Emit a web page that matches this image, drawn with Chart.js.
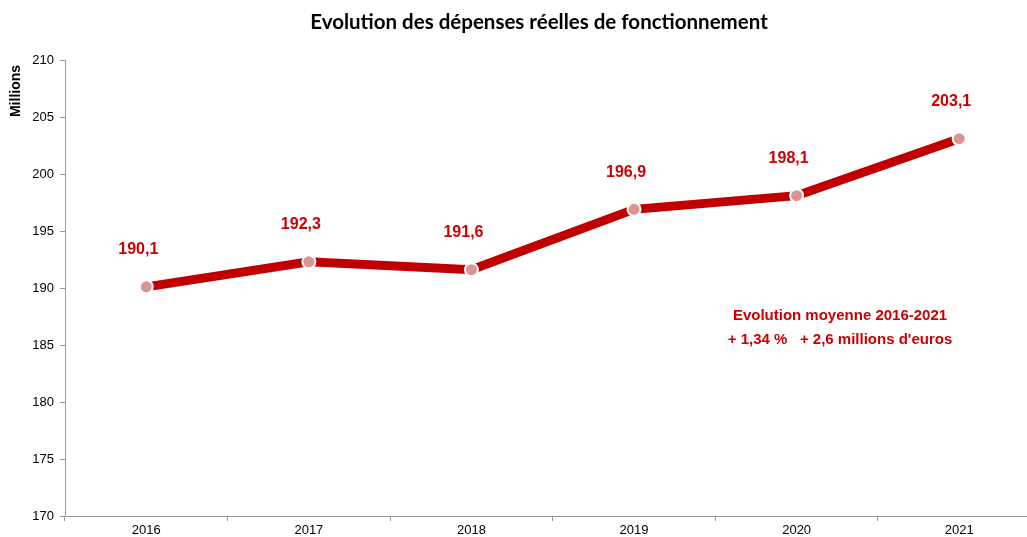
<!DOCTYPE html>
<html lang="fr">
<head>
  <meta charset="UTF-8" />
  <title>Evolution des dépenses réelles de fonctionnement</title>
  <script src="https://cdn.jsdelivr.net/npm/chart.js"></script>
  <style>
    html, body { margin: 0; padding: 0; background: #fff; overflow: hidden; }
    #wrap { position: absolute; left: 0; top: 0; width: 1049px; height: 537px; }
  </style>
</head>
<body>
<div id="wrap"><canvas id="chart" width="1049" height="537"></canvas></div>

<script>
  const years = ['2016', '2017', '2018', '2019', '2020', '2021'];
  const depenses = [190.1, 192.3, 191.6, 196.9, 198.1, 203.1];
  const yTicks = [170, 175, 180, 185, 190, 195, 200, 205, 210];
  const chartTitle = 'Evolution des dépenses réelles de fonctionnement';
  const yTitle = 'Millions';
  const noteLines = ['Evolution moyenne 2016-2021', '+ 1,34 %   + 2,6 millions d\'euros'];

  const fmt = v => v.toFixed(1).replace('.', ',');
  const arial = '"Liberation Sans", Arial, sans-serif';

  // title, axis label, value labels and the note
  const extras = {
    id: 'extras',
    afterDatasetsDraw(chart) {
      const ctx = chart.ctx;
      ctx.save();
      ctx.textAlign = 'center';
      ctx.textBaseline = 'middle';
      ctx.fillStyle = '#000';
      ctx.font = 'bold 20.5px Lato, "Open Sans", sans-serif';
      ctx.fillText(chartTitle, 539, 22);

      ctx.save();
      ctx.translate(16, 91);
      ctx.rotate(-Math.PI / 2);
      ctx.font = 'bold 14px ' + arial;
      ctx.fillText(yTitle, 0, 0);
      ctx.restore();

      ctx.fillStyle = '#cc0000';
      ctx.font = 'bold 16px ' + arial;
      const meta = chart.getDatasetMeta(0);
      meta.data.forEach((pt, i) => {
        ctx.fillText(fmt(depenses[i]), pt.x - 8, pt.y - 37);
      });

      ctx.font = 'bold 15px ' + arial;
      ctx.fillText(noteLines[0], 840, 316);
      ctx.fillText(noteLines[1], 840, 340);
      ctx.restore();
    }
  };

  new Chart(document.getElementById('chart'), {
    type: 'line',
    data: {
      labels: years,
      datasets: [{
        data: depenses,
        borderColor: '#c00000',
        borderWidth: 9,
        tension: 0,
        pointRadius: 6.5,
        pointBackgroundColor: '#d99694',
        pointBorderColor: '#ffffff',
        pointBorderWidth: 2
      }]
    },
    options: {
      responsive: false,
      animation: false,
      devicePixelRatio: 1,
      layout: { padding: { top: 60, left: 0, right: 0, bottom: 0 } },
      plugins: { legend: { display: false }, tooltip: { enabled: false } },
      scales: {
        x: {
          offset: true,
          grid: { offset: true, drawOnChartArea: false, drawTicks: true, tickLength: 5, color: '#999' },
          border: { color: '#999', width: 1 },
          ticks: { color: '#000', font: { family: arial, size: 13 }, padding: 2 },
          afterFit(scale) { scale.height = 21; }
        },
        y: {
          min: 170,
          max: 210,
          afterBuildTicks(scale) { scale.ticks = yTicks.map(v => ({ value: v })); },
          grid: { drawOnChartArea: false, drawTicks: true, tickLength: 5, color: '#999' },
          border: { color: '#999', width: 1 },
          ticks: { color: '#000', font: { family: arial, size: 13 }, padding: 6 },
          afterFit(scale) { scale.width = 65; }
        }
      }
    },
    plugins: [extras]
  });
</script>
</body>
</html>
